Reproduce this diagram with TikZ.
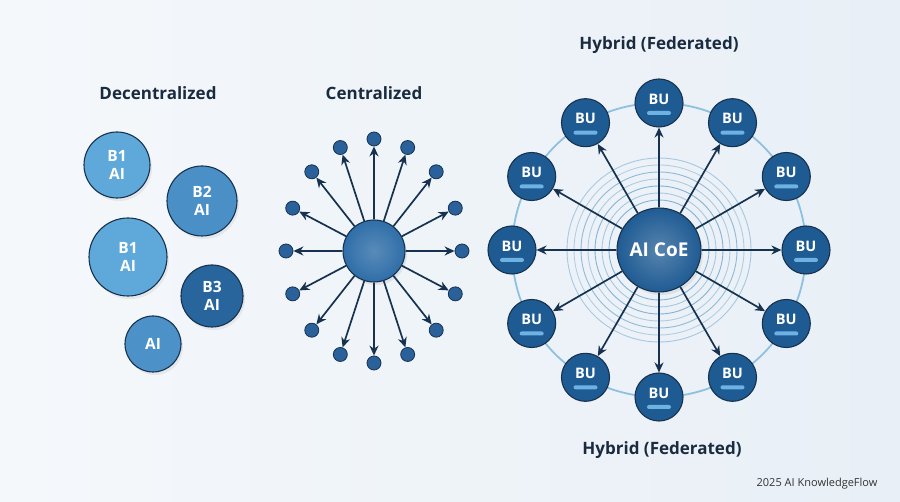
\documentclass[tikz,border=0pt]{standalone}
\usepackage{fontspec}
\setmainfont{Open Sans}
\usetikzlibrary{arrows.meta,shadows}
\definecolor{navy}{HTML}{16324F}
\definecolor{bgl}{HTML}{F5F8FB}
\definecolor{bgr}{HTML}{E8EFF6}
\definecolor{lightb}{HTML}{5EA9DA}
\definecolor{midb}{HTML}{4A8FC5}
\definecolor{darkb}{HTML}{27659C}
\definecolor{smallb}{HTML}{4C92C8}
\definecolor{ctrb}{HTML}{2F6EA8}
\definecolor{dotb}{HTML}{2A619A}
\definecolor{bufill}{HTML}{1F5B93}
\definecolor{barc}{HTML}{6DB2E3}
\definecolor{ringc}{HTML}{8EC0E0}
\definecolor{titlec}{HTML}{1A2B40}
\tikzset{
  title/.style={font=\fontsize{17}{19}\selectfont\bfseries, text=titlec},
  dball/.style={circle, draw=navy, line width=1.1pt, text=white, align=center,
     font=\fontsize{15.5}{18.5}\selectfont\bfseries, inner sep=0pt,
     drop shadow={opacity=0.12, shadow xshift=2pt, shadow yshift=-3pt}},
  cdot/.style={circle, fill=dotb, draw=navy, line width=0.8pt, minimum size=14pt, inner sep=0pt},
  arr/.style={draw=navy, line width=1.7pt, -{Stealth[length=10pt,width=9pt]}},
  bu/.style={circle, fill=bufill, draw=navy, line width=1.1pt, minimum size=48pt, inner sep=0pt},
  bar/.style={fill=barc, rounded corners=2pt},
  crl/.style={draw=ringc!80!bufill, line width=0.9pt},
}
\begin{document}
\begin{tikzpicture}[x=1pt,y=-1pt]
\useasboundingbox (0,0) rectangle (900,502);
\shade[left color=bgl, right color=bgr] (0,0) rectangle (900,502);

% ---------- Decentralized ----------
\node[title] (tdec) at (158,93) {Decentralized};
\node[dball, fill=lightb, minimum size=66pt] (d1) at (117,165) {B1\\AI};
\node[dball, fill=midb, minimum size=70pt] (d2) at (202,201) {B2\\AI};
\node[dball, fill=lightb, minimum size=78pt] (d3) at (128,257) {B1\\AI};
\node[dball, fill=darkb, minimum size=62pt] (d4) at (212,296) {B3\\AI};
\node[dball, fill=smallb, minimum size=56pt] (d5) at (153,344) {AI};

% ---------- Centralized ----------
\node[title] (tcen) at (374,93) {Centralized};
\foreach \i [evaluate=\i as \a using \i*22.5] in {0,...,15} {
  \node[cdot] (c\i) at ({374+88*sin(\a)},{251-112*cos(\a)}) {};
}
\node[circle, draw=navy, line width=1.1pt, minimum size=62pt, inner sep=0pt,
      inner color=ctrb!80!white, outer color=ctrb,
      drop shadow={opacity=0.15, shadow xshift=2pt, shadow yshift=-3pt}] (cc) at (374,251) {};
\foreach \i in {0,...,15} { \draw[arr] (cc) -- (c\i); }

% ---------- Hybrid ----------
\node[title] (thy1) at (659,45) {Hybrid (Federated)};
\node[title] (thy2) at (662,450) {Hybrid (Federated)};
\draw[draw=ringc, line width=1.8pt] (659,250) circle[radius=147];
\foreach \r/\o in {50/0.9,57/0.6,64/0.9,71/0.55,78/0.8,85/0.5,92/0.6} {
  \draw[crl, opacity=\o] (659,250) circle[radius=\r];
}
\foreach \i [evaluate=\i as \a using \i*30] in {0,...,11} {
  \node[bu] (b\i) at ({659+147*sin(\a)},{250-147*cos(\a)}) {};
  \node[text=white, font=\fontsize{14.5}{16}\selectfont\bfseries, inner sep=0pt] (bt\i) at ([yshift=4pt]b\i.center) {BU};
  \fill[bar] ([xshift=-12pt,yshift=-8pt]b\i.center) rectangle ([xshift=12pt,yshift=-12pt]b\i.center);
}
\node[circle, draw=navy, line width=1.1pt, minimum size=84pt, inner sep=0pt,
      inner color=bufill!75!white, outer color=bufill, text=white,
      font=\fontsize{19}{22}\selectfont\bfseries,
      drop shadow={opacity=0.15, shadow xshift=2pt, shadow yshift=-3pt}] (coe) at (659,250) {AI CoE};
\foreach \i in {0,...,11} { \draw[arr] (coe) -- (b\i); }

\node[font=\fontsize{11}{13}\selectfont, text=black!80] (wm) at (817,484) {2025 AI KnowledgeFlow};
\end{tikzpicture}
\end{document}
